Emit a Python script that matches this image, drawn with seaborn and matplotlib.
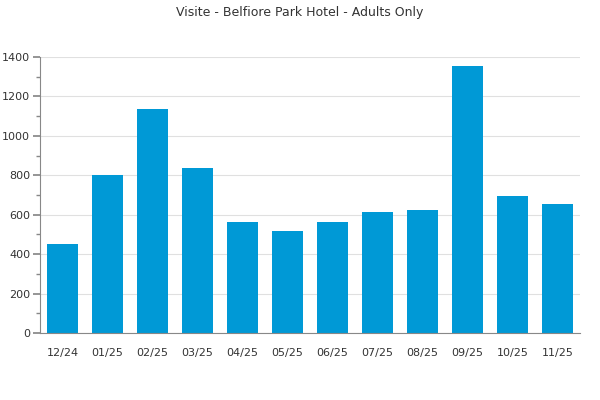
import matplotlib
matplotlib.use("Agg")
import matplotlib.pyplot as plt
import seaborn as sns
import pandas as pd
from matplotlib.ticker import MultipleLocator

months = ["12/24", "01/25", "02/25", "03/25", "04/25", "05/25",
          "06/25", "07/25", "08/25", "09/25", "10/25", "11/25"]
visits = [453, 803, 1138, 839, 565, 519, 565, 615, 626, 1353, 693, 652]

sns.set_theme(style="white")
plt.rcParams['font.family'] = ['DejaVu Sans']

df = pd.DataFrame({"month": months, "visits": visits})

fig = plt.figure(figsize=(6, 4), dpi=100)
ax = fig.add_axes([0.0667, 0.1675, 0.9, 0.69])
sns.barplot(data=df, x="month", y="visits", color="#0099d6", saturation=1,
            width=0.69, ax=ax, edgecolor="none")

ax.set_ylim(0, 1400)
ax.set_xlim(-0.5, len(months) - 0.5)
ax.yaxis.set_major_locator(MultipleLocator(200))
ax.yaxis.set_minor_locator(MultipleLocator(100))
ax.grid(axis="y", which="major", color="#e0e0e0", linewidth=0.8)
ax.set_axisbelow(True)
ax.set_xlabel("")
ax.set_ylabel("")
for s in ["top", "right"]:
    ax.spines[s].set_visible(False)
for s in ["left", "bottom"]:
    ax.spines[s].set_color("#888888")
    ax.spines[s].set_linewidth(0.8)
ax.tick_params(axis="y", which="major", left=True, length=5, color="#888888",
               labelsize=8, labelcolor="#333333", pad=2)
ax.tick_params(axis="y", which="minor", left=True, length=3, color="#888888")
ax.tick_params(axis="x", bottom=False, labelsize=8, labelcolor="#333333", pad=5)

fig.suptitle("Visite - Belfiore Park Hotel - Adults Only", y=0.985,
             fontsize=9, color="#333333")

fig.savefig("out.png", dpi=100)
